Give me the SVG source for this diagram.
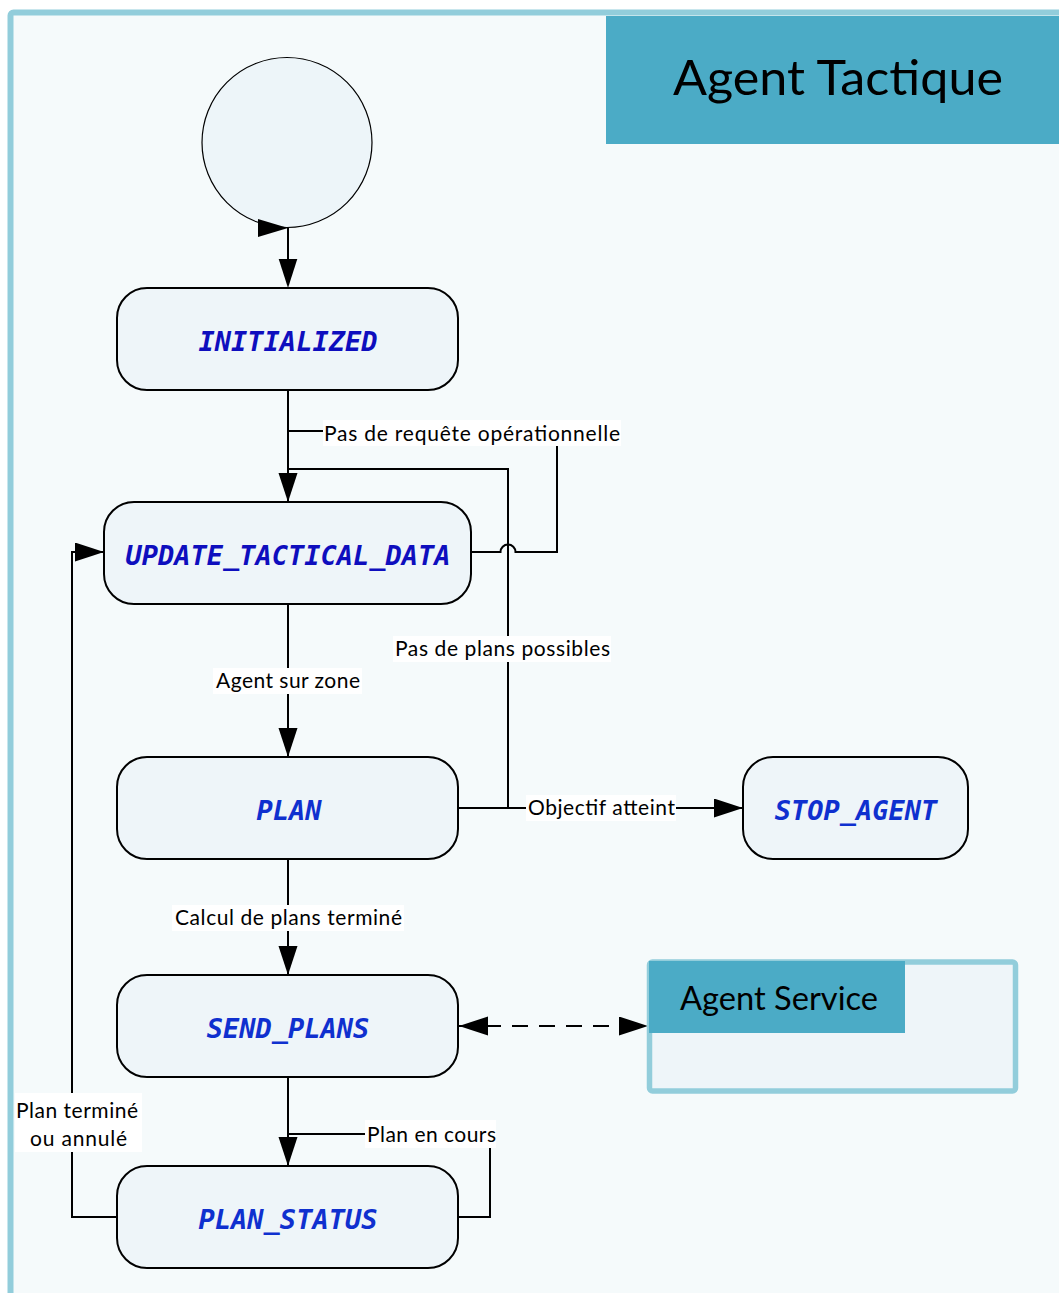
<svg xmlns="http://www.w3.org/2000/svg" width="1059" height="1293" viewBox="0 0 1059 1293">
<defs>
<style>
.frame{fill:#F5FAFB;stroke:#92CDDB;stroke-width:6}
.hdr{fill:#4BABC6}
.node{fill:#EEF5F9;stroke:#000;stroke-width:2}
.nt{font-family:"DejaVu Sans Mono",monospace;font-weight:bold;font-style:italic;font-size:27px;text-anchor:middle}
.c1{fill:#0E0EBE}
.c2{fill:#0F30CF}
.conn{fill:none;stroke:#000;stroke-width:2}
.lbg{fill:#FFFFFF}
.lt{font-family:Lato,"Liberation Sans",sans-serif;font-size:21px;fill:#000}
.title{font-family:Lato,"Liberation Sans",sans-serif;fill:#000}
</style>
<marker id="ah" markerUnits="userSpaceOnUse" markerWidth="30" markerHeight="20" refX="29" refY="9.5" orient="auto-start-reverse" viewBox="0 0 30 20">
<path d="M0,0 L29,9.5 L0,19 z" fill="#000"/>
</marker>
</defs>

<g id="frame">
<rect class="frame" x="10.5" y="12.5" width="1100" height="1350" rx="3"/>
</g>

<g id="title">
<rect class="hdr" x="606" y="16" width="453" height="128"/>
<text class="title" x="673" y="95" font-size="48" textLength="330" lengthAdjust="spacingAndGlyphs">Agent Tactique</text>
</g>

<g id="start">
<circle cx="287" cy="142.5" r="85" fill="#EDF5F9" stroke="#000" stroke-width="1.2"/>
</g>

<g id="connectors">
<path class="conn" d="M288,228 V260"/>
<polygon points="258,219 288,228 258,237" fill="#000"/>
<polygon points="278.7,259 297.3,259 288,288" fill="#000"/>
<path class="conn" d="M288,391 V502" marker-end="url(#ah)"/>
<path class="conn" d="M471,552 H500.5 A7.5,7.5 0 0 1 515.5,552 H557 V431 H288"/>
<path class="conn" d="M458,808 H508 V469 H288"/>
<path class="conn" d="M288,604 V757" marker-end="url(#ah)"/>
<path class="conn" d="M458,808 H743" marker-end="url(#ah)"/>
<path class="conn" d="M288,859 V975" marker-end="url(#ah)"/>
<path class="conn" d="M459,1026 H648" stroke-dasharray="16 11" stroke-dashoffset="1" marker-start="url(#ah)" marker-end="url(#ah)"/>
<path class="conn" d="M288,1077 V1166" marker-end="url(#ah)"/>
<path class="conn" d="M458,1217 H490 V1134 H288"/>
<path class="conn" d="M117,1217 H72 V552 H104" marker-end="url(#ah)"/>
</g>

<g id="labels">
<g id="lbl-requete">
<rect class="lbg" x="323" y="420" width="298" height="26"/>
<text class="lt" x="324" y="441" textLength="296">Pas de requête opérationnelle</text>
</g>
<g id="lbl-plans-possibles">
<rect class="lbg" x="393" y="636" width="218" height="26"/>
<text class="lt" x="395" y="656" textLength="215">Pas de plans possibles</text>
</g>
<g id="lbl-zone">
<rect class="lbg" x="213" y="668" width="149" height="26"/>
<text class="lt" x="216" y="688" textLength="144">Agent sur zone</text>
</g>
<g id="lbl-objectif">
<rect class="lbg" x="526" y="795" width="150" height="26"/>
<text class="lt" x="528" y="815" textLength="147">Objectif atteint</text>
</g>
<g id="lbl-calcul">
<rect class="lbg" x="172" y="905" width="232" height="26"/>
<text class="lt" x="175" y="925" textLength="227">Calcul de plans terminé</text>
</g>
<g id="lbl-encours">
<rect class="lbg" x="365" y="1120" width="131" height="28"/>
<text class="lt" x="367" y="1142" textLength="129">Plan en cours</text>
</g>
<g id="lbl-termine">
<rect class="lbg" x="15" y="1093" width="127" height="59"/>
<text class="lt" x="16" y="1118" textLength="122">Plan terminé</text>
<text class="lt" x="30" y="1146" textLength="97">ou annulé</text>
</g>
</g>

<g id="INITIALIZED">
<rect class="node" x="117" y="288" width="341" height="102" rx="30"/>
<text class="nt c1" x="288" y="351">INITIALIZED</text>
</g>
<g id="UPDATE_TACTICAL_DATA">
<rect class="node" x="104" y="502" width="367" height="102" rx="30"/>
<text class="nt c1" x="288" y="565">UPDATE_TACTICAL_DATA</text>
</g>
<g id="PLAN">
<rect class="node" x="117" y="757" width="341" height="102" rx="30"/>
<text class="nt c2" x="289" y="820">PLAN</text>
</g>
<g id="STOP_AGENT">
<rect class="node" x="743" y="757" width="225" height="102" rx="30"/>
<text class="nt c2" x="856" y="820">STOP_AGENT</text>
</g>
<g id="SEND_PLANS">
<rect class="node" x="117" y="975" width="341" height="102" rx="30"/>
<text class="nt c2" x="288" y="1038">SEND_PLANS</text>
</g>
<g id="PLAN_STATUS">
<rect class="node" x="117" y="1166" width="341" height="102" rx="30"/>
<text class="nt c2" x="288" y="1229">PLAN_STATUS</text>
</g>
<g id="AgentService">
<rect x="649.5" y="962" width="366" height="129" rx="3" fill="#EEF5F9" stroke="#92CDDB" stroke-width="5.5"/>
<rect class="hdr" x="649" y="961" width="256" height="72"/>
<text class="title" x="680" y="1010" font-size="32" textLength="198" lengthAdjust="spacingAndGlyphs">Agent Service</text>
</g>
</svg>
